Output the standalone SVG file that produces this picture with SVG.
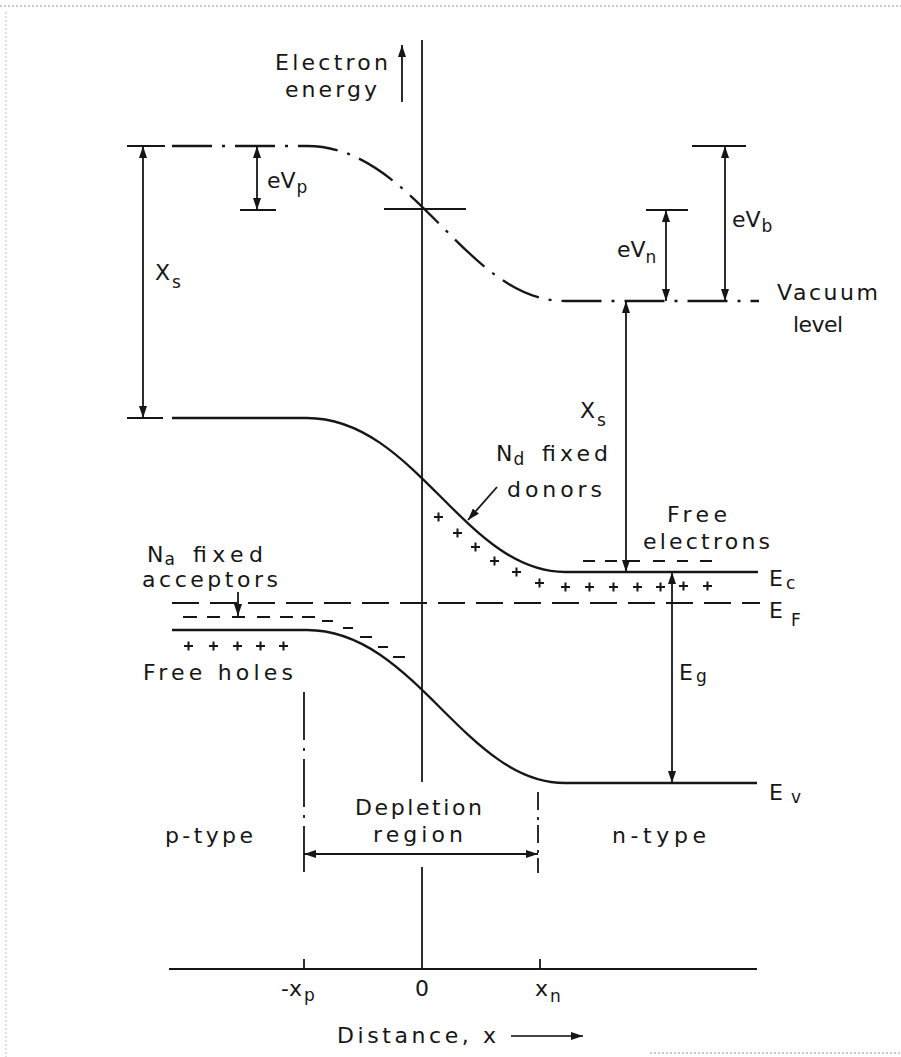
<svg xmlns="http://www.w3.org/2000/svg" width="901" height="1057" viewBox="0 0 901 1057">
<defs>
<marker id="ah" viewBox="0 0 12 8" refX="12" refY="4" markerWidth="12" markerHeight="8" orient="auto-start-reverse" markerUnits="userSpaceOnUse"><path d="M0,0 L12,4 L0,8 z" fill="#161616"/></marker>
<style>
.ln{stroke:#161616;stroke-width:1.8;fill:none}
.band{stroke:#161616;stroke-width:2.3;fill:none}
.vac{stroke:#161616;stroke-width:2.3;fill:none;stroke-dasharray:40 10 3 10}
.ef{stroke:#161616;stroke-width:2;fill:none;stroke-dasharray:27 11}
.dd{stroke:#161616;stroke-width:1.8;fill:none;stroke-dasharray:48 8 3 8}
.arr{stroke:#161616;stroke-width:1.8;fill:none;marker-start:url(#ah);marker-end:url(#ah)}
.chg{stroke:#161616;stroke-width:2;fill:none}
.frame{stroke:#9a9a9a;stroke-width:1.2;fill:none;stroke-dasharray:2 2}
text{font-family:"DejaVu Sans","Liberation Sans",sans-serif;font-size:22px;fill:#161616}
.sub{font-size:17px}
</style>
</defs>
<rect width="901" height="1057" fill="#ffffff"/>
<g id="frame">
<line class="frame" x1="0" y1="6" x2="901" y2="6"/>
<line class="frame" x1="6" y1="12" x2="6" y2="1057" stroke-opacity="0.5"/>
<line class="frame" x1="650" y1="1053" x2="901" y2="1053"/>
</g>
<g id="axes">
<line class="ln" x1="422" y1="40" x2="422" y2="782"/>
<line class="ln" x1="422" y1="867" x2="422" y2="969"/>
<line class="ln" x1="169" y1="969" x2="757" y2="969"/>
<line class="ln" x1="304" y1="959" x2="304" y2="969"/>
<line class="ln" x1="540" y1="959" x2="540" y2="969"/>
<line class="ln" x1="402" y1="102" x2="402" y2="45" marker-end="url(#ah)"/>
<line class="ln" x1="511" y1="1036" x2="583" y2="1036" marker-end="url(#ah)" stroke-opacity="0.8"/>
</g>
<g id="vacuum-level">
<path class="vac" d="M172,146 L307,146 C415,146 465,301 565,301 L759,301"/>
</g>
<g id="conduction-band">
<path class="band" d="M172,418 L307,418 C415,418 465,572 565,572 L758,572"/>
</g>
<g id="valence-band">
<path class="band" d="M172,630 L307,630 C415,630 465,783 565,783 L757,783"/>
</g>
<g id="fermi-level">
<line class="ef" x1="172" y1="603" x2="760" y2="603"/>
</g>
<g id="depletion-bounds">
<line class="dd" x1="304" y1="692" x2="304" y2="872"/>
<line class="dd" x1="538" y1="792" x2="538" y2="873" style="stroke-dasharray:18 7 3 5"/>
</g>
<g id="ticks">
<line class="ln" x1="127" y1="146" x2="165" y2="146"/>
<line class="ln" x1="127" y1="418" x2="163" y2="418"/>
<line class="ln" x1="240" y1="210" x2="276" y2="210"/>
<line class="ln" x1="384" y1="209" x2="466" y2="209"/>
<line class="ln" x1="646" y1="210" x2="688" y2="210"/>
<line class="ln" x1="692" y1="146" x2="746" y2="146"/>
</g>
<g id="connectors">
<line class="arr" x1="143" y1="146" x2="143" y2="418"/>
<line class="arr" x1="257" y1="146" x2="257" y2="210"/>
<line class="arr" x1="666" y1="210" x2="666" y2="301"/>
<line class="arr" x1="725" y1="146" x2="725" y2="301"/>
<line class="arr" x1="626" y1="301" x2="626" y2="572"/>
<line class="arr" x1="672" y1="572" x2="672" y2="783"/>
<line class="arr" x1="304" y1="854" x2="538" y2="854"/>
<line class="ln" x1="497" y1="487" x2="468" y2="520" marker-end="url(#ah)"/>
<line class="ln" x1="238" y1="592" x2="238" y2="616" marker-end="url(#ah)"/>
</g>
<g id="acceptor-charges">
<path class="chg" d="M183,617h14M207,617h13M232,617h13M257,617h13M280,617h13M302,617h13M322,621h11M343,628h10M360,637h12M378,647h10M393,657h12"/>
</g>
<g id="free-holes">
<path class="chg" d="M184,646h9M188.5,641.5v9M209,646h9M213.5,641.5v9M233,646h9M237.5,641.5v9M256,646h9M260.5,641.5v9M279,646h9M283.5,641.5v9"/>
</g>
<g id="donor-charges">
<path class="chg" d="M434,517h9M438.5,512.5v9M453,533h9M457.5,528.5v9M471,547h9M475.5,542.5v9M490,561h9M494.5,556.5v9M512,572h9M516.5,567.5v9M535,583h9M539.5,578.5v9M561,587h9M565.5,582.5v9M585,587h9M589.5,582.5v9M609,587h9M613.5,582.5v9M633,587h9M637.5,582.5v9M656,587h9M660.5,582.5v9M679,586h9M683.5,581.5v9M703,586h9M707.5,581.5v9"/>
</g>
<g id="free-electrons">
<path class="chg" d="M583,561h12M605,561h12M628,561h12M653,561h12M677,561h11M700,561h12"/>
</g>
<g id="labels">
<text x="275" y="70" textLength="113" lengthAdjust="spacing">Electron</text>
<text x="285" y="97" textLength="92" lengthAdjust="spacing">energy</text>
<text x="267" y="188">eV<tspan class="sub" dx="1" dy="5">p</tspan></text>
<text x="155" y="280">X<tspan class="sub" dx="2" dy="8">s</tspan></text>
<text x="617" y="257">eV<tspan class="sub" dx="0" dy="6">n</tspan></text>
<text x="732" y="227">eV<tspan class="sub" dx="1" dy="5">b</tspan></text>
<text x="777" y="300" textLength="101" lengthAdjust="spacing">Vacuum</text>
<text x="793" y="332" textLength="50" lengthAdjust="spacing">level</text>
<text x="580" y="418">X<tspan class="sub" dx="2" dy="8">s</tspan></text>
<text x="496" y="461">N<tspan class="sub" dx="1" dy="4">d</tspan></text>
<text x="542" y="461" textLength="66" lengthAdjust="spacing">fixed</text>
<text x="507" y="497" textLength="95" lengthAdjust="spacing">donors</text>
<text x="667" y="522" textLength="60" lengthAdjust="spacing">Free</text>
<text x="643" y="549" textLength="127" lengthAdjust="spacing">electrons</text>
<text x="769" y="586">E<tspan class="sub" dx="3" dy="3">c</tspan></text>
<text x="769" y="618">E<tspan class="sub" dx="8" dy="8">F</tspan></text>
<text x="769" y="800">E<tspan class="sub" dx="8" dy="3">v</tspan></text>
<text x="679" y="680">E<tspan class="sub" dx="3" dy="2">g</tspan></text>
<text x="147" y="562">N<tspan class="sub" dx="1" dy="3">a</tspan></text>
<text x="193" y="562" textLength="70" lengthAdjust="spacing">fixed</text>
<text x="142" y="587" textLength="136" lengthAdjust="spacing">acceptors</text>
<text x="143" y="680" textLength="150" lengthAdjust="spacing">Free holes</text>
<text x="165" y="843" textLength="88" lengthAdjust="spacing">p-type</text>
<text x="612" y="843" textLength="94" lengthAdjust="spacing">n-type</text>
<text x="355" y="815" textLength="127" lengthAdjust="spacing">Depletion</text>
<text x="373" y="842" textLength="90" lengthAdjust="spacing">region</text>
<text x="281" y="996">-x<tspan class="sub" dx="2" dy="5">p</tspan></text>
<text x="415" y="996">0</text>
<text x="535" y="996">x<tspan class="sub" dx="2" dy="6">n</tspan></text>
<text x="337" y="1043" textLength="159" lengthAdjust="spacing">Distance, x</text>
</g>
</svg>
